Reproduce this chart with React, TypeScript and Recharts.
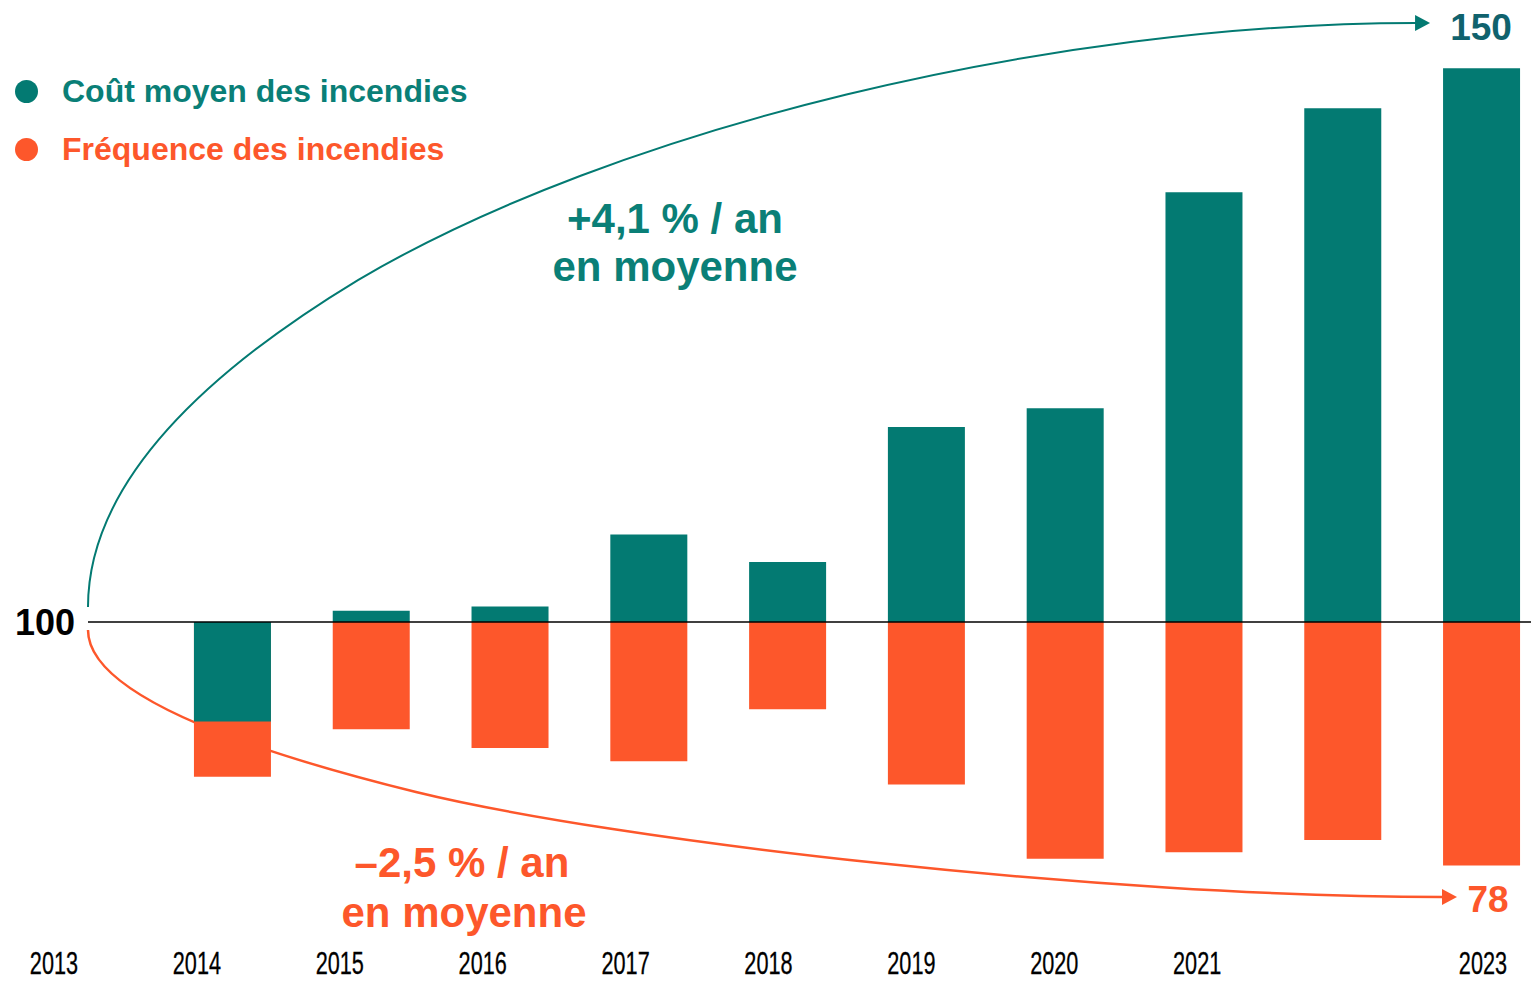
import React from 'react'
import { BarChart, Bar, XAxis, YAxis, ReferenceLine, Legend, Customized } from 'recharts'

// indice base 100 en 2013
const YEARS = [2014, 2015, 2016, 2017, 2018, 2019, 2020, 2021, 2022, 2023]
const COUT = [91, 101, 101.4, 107.9, 105.4, 117.6, 119.3, 138.8, 146.4, 150]
const FREQ = [86, 90.3, 88.6, 87.4, 92.1, 85.3, 78.6, 79.2, 80.3, 78]
const TICK_YEARS = [2013, 2014, 2015, 2016, 2017, 2018, 2019, 2020, 2021, 2023]
const BASE = 100

// flèches de tendance : départ, contrôle quadratique, point de jonction, 2 contrôles cubiques, arrivée [année, indice]
const COUT_TREND = [[2012.96, 101.34], [2012.96, 116.11], [2014.905, 130.88], [2016.764, 144.61], [2019.891, 154.1], [2022.529, 154.1]]
const FREQ_TREND = [[2012.96, 99.27], [2012.96, 91.95], [2015.323, 84.63], [2016.765, 80.21], [2020.252, 75.15], [2022.723, 75.15]]

const TEAL = '#037a72'
const TEAL_TEXT = '#0a7f77'
const TEAL_DARK = '#10626d'
const ORANGE = '#fd572b'
const FONT = '"Liberation Sans", Arial, Helvetica, sans-serif'

const SERIES = [
  { name: 'Coût moyen des incendies', color: TEAL, text: TEAL_TEXT },
  { name: 'Fréquence des incendies', color: ORANGE, text: ORANGE },
]

const W = 1531
const H = 981
const MARGIN = { top: 13, right: 0, bottom: 0, left: 0 }
const Y_W = 88
const X_H = 27
const X_DOMAIN: [number, number] = [2012.96, 2023.357]
const LBL_DOMAIN: [number, number] = [2013.238, 2023.336] // les années en bas sont un peu décalées des barres
const Y_DOMAIN: [number, number] = [70, 155]

const plot = {
  left: MARGIN.left + Y_W,
  top: MARGIN.top,
  width: W - MARGIN.left - Y_W - MARGIN.right,
  height: H - MARGIN.top - MARGIN.bottom - X_H,
}
const xPx = (yr: number, dom = X_DOMAIN) => plot.left + ((yr - dom[0]) / (dom[1] - dom[0])) * plot.width
const yPx = (v: number) => plot.top + ((Y_DOMAIN[1] - v) / (Y_DOMAIN[1] - Y_DOMAIN[0])) * plot.height

const rows = YEARS.map((year, i) => ({ year, cout: COUT[i], freq: FREQ[i] }))
const range = (v: number) => [Math.min(BASE, v), Math.max(BASE, v)]

function Arrow({ pts, color, width }: { pts: number[][]; color: string; width: number }) {
  const p = pts.map(([a, b]) => [xPx(a), yPx(b)])
  const d = `M${p[0]} Q${p[1]} ${p[2]} C${p[3]} ${p[4]} ${p[5]}`
  const [ex, ey] = p[5]
  return (
    <g>
      <path d={d} stroke={color} strokeWidth={width} fill="none" />
      <polygon points={`${ex - 1},${ey - 8} ${ex + 14},${ey} ${ex - 1},${ey + 8}`} fill={color} />
    </g>
  )
}

function Annotations() {
  const lastCout = COUT[COUT.length - 1]
  const lastFreq = FREQ[FREQ.length - 1]
  return (
    <g fontFamily={FONT} fontWeight={700}>
      <Arrow pts={COUT_TREND} color={TEAL} width={2} />
      <Arrow pts={FREQ_TREND} color={ORANGE} width={2.5} />
      <text x={675} y={233} textAnchor="middle" fontSize={42} fill={TEAL_TEXT}>+4,1 % / an</text>
      <text x={675} y={281} textAnchor="middle" fontSize={42} fill={TEAL_TEXT}>en moyenne</text>
      <text x={462} y={877} textAnchor="middle" fontSize={42} fill={ORANGE}>–2,5 % / an</text>
      <text x={464} y={927} textAnchor="middle" fontSize={42} fill={ORANGE}>en moyenne</text>
      <text x={1481} y={40} textAnchor="middle" fontSize={37} fill={TEAL_DARK}>{lastCout}</text>
      <text x={1488} y={912} textAnchor="middle" fontSize={37} fill={ORANGE}>{lastFreq}</text>
    </g>
  )
}

// police étroite : on comprime horizontalement
function YearTick({ y, payload }: any) {
  const yr = payload.value
  return (
    <text
      transform={`translate(${xPx(yr, LBL_DOMAIN)},${y + 20}) scale(0.7,1)`}
      textAnchor="middle"
      fill="#000"
      fontSize={31}
      fontFamily={FONT}
      stroke="#000"
      strokeWidth={0.3}
    >
      {yr}
    </text>
  )
}

function LegendBox() {
  return (
    <div style={{ fontFamily: FONT, fontWeight: 700, fontSize: 32 }}>
      {SERIES.map((s) => (
        <div key={s.name} style={{ display: 'flex', alignItems: 'center', height: 58 }}>
          <span style={{ width: 23, height: 23, borderRadius: '50%', background: s.color, display: 'inline-block', marginRight: 24 }} />
          <span style={{ color: s.text, whiteSpace: 'nowrap' }}>{s.name}</span>
        </div>
      ))}
    </div>
  )
}

export default function App() {
  return (
    <div style={{ width: W, height: H }}>
      <style>{'body{margin:0}'}</style>
      <BarChart width={W} height={H} data={rows} margin={MARGIN}>
        <XAxis xAxisId="freq" dataKey="year" type="number" domain={X_DOMAIN} allowDataOverflow hide />
        <XAxis
          xAxisId="cout"
          dataKey="year"
          type="number"
          domain={X_DOMAIN}
          allowDataOverflow
          ticks={TICK_YEARS}
          interval={0}
          height={X_H}
          axisLine={false}
          tickLine={false}
          tickSize={0}
          tickMargin={0}
          tick={<YearTick />}
        />
        <YAxis
          domain={Y_DOMAIN}
          allowDataOverflow
          ticks={[BASE]}
          width={Y_W}
          axisLine={false}
          tickLine={false}
          tickSize={0}
          tickMargin={13}
          tick={{ fill: '#000', fontSize: 36, fontWeight: 700, fontFamily: FONT }}
        />
        <Customized component={Annotations} />
        <Bar xAxisId="freq" dataKey={(d: any) => range(d.freq)} name={SERIES[1].name} fill={ORANGE} barSize={77} isAnimationActive={false} />
        <Bar xAxisId="cout" dataKey={(d: any) => range(d.cout)} name={SERIES[0].name} fill={TEAL} barSize={77} isAnimationActive={false} />
        <ReferenceLine xAxisId="cout" y={BASE} stroke="#000" strokeWidth={1.5} />
        <Legend
          content={<LegendBox />}
          layout="vertical"
          align="center"
          verticalAlign="middle"
          wrapperStyle={{ top: 62, left: 15, width: 'auto', height: 'auto' }}
        />
      </BarChart>
    </div>
  )
}
